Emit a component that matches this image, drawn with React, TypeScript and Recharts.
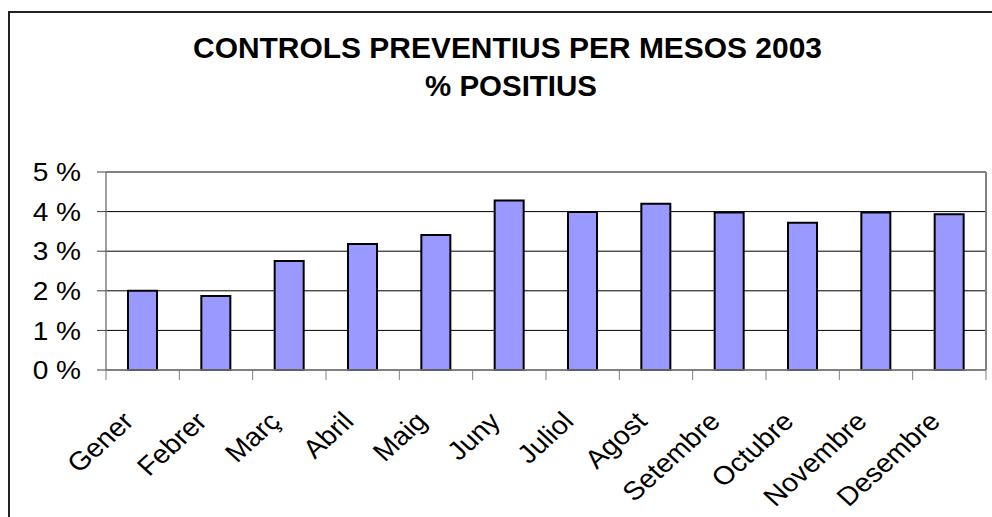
import React from 'react';
import { BarChart, Bar, XAxis, YAxis, CartesianGrid, ReferenceLine } from 'recharts';

const months = ['Gener', 'Febrer', 'Març', 'Abril', 'Maig', 'Juny', 'Juliol', 'Agost', 'Setembre', 'Octubre', 'Novembre', 'Desembre'];
const positius = [2.0, 1.87, 2.75, 3.18, 3.41, 4.28, 3.99, 4.2, 3.98, 3.72, 3.98, 3.93];
const yTicks = [0, 1, 2, 3, 4, 5];
const titleLines = ['CONTROLS PREVENTIUS PER MESOS 2003', '% POSITIUS'];

const data = months.map((m, i) => ({ mes: m, valor: positius[i] }));

const W = 992;
const H = 517;
const M = { top: 172, right: 5, bottom: 7, left: 0 };
const Y_W = 106;
const PLOT_W = W - M.left - M.right - Y_W - 1;
const HALF_BAND = PLOT_W / months.length / 2;
const FONT = '"Liberation Sans", Arial, sans-serif';

const XTick = (props: any) => {
  const { x, y, payload, index } = props;
  const ax = x - 7.5;
  const ay = y + 53;
  return (
    <g>
      <line x1={x - HALF_BAND} y1={y} x2={x - HALF_BAND} y2={y + 10} stroke="#808080" strokeWidth={1} />
      {index === months.length - 1 && (
        <line x1={x + HALF_BAND} y1={y} x2={x + HALF_BAND} y2={y + 10} stroke="#808080" strokeWidth={1} />
      )}
      <text
        x={0}
        y={0}
        transform={`translate(${ax}, ${ay}) scale(1.1, 1) rotate(-45)`}
        textAnchor="end"
        fontFamily={FONT}
        fontSize={26}
        fill="#000"
      >
        {payload.value}
      </text>
    </g>
  );
};

const YTick = (props: any) => {
  const { x, y, payload } = props;
  return (
    <text
      x={0}
      y={0}
      dy="0.355em"
      transform={`translate(${x}, ${y}) scale(1.08, 1)`}
      textAnchor="end"
      fontFamily={FONT}
      fontSize={26}
      fill="#000"
    >
      {`${payload.value} %`}
    </text>
  );
};

export default function App() {
  return (
    <div style={{ position: 'absolute', left: 0, top: 0, width: W, height: H, overflow: 'hidden', background: '#fff' }}>
      <div
        style={{
          position: 'absolute',
          left: 8,
          top: 11,
          width: 1100,
          height: 700,
          borderLeft: '2px solid #222',
          borderTop: '2px solid #222',
        }}
      />
      <svg width={W} height={H} style={{ position: 'absolute', left: 0, top: 0 }}>
        <text x={507.5} y={58} textAnchor="middle" fontFamily={FONT} fontWeight="bold" fontSize={29} fill="#000" textLength={629} lengthAdjust="spacingAndGlyphs">
          {titleLines[0]}
        </text>
        <text x={511} y={96} textAnchor="middle" fontFamily={FONT} fontWeight="bold" fontSize={29} fill="#000" textLength={172} lengthAdjust="spacingAndGlyphs">
          {titleLines[1]}
        </text>
      </svg>
      <div style={{ position: 'absolute', left: 0, top: 0 }}>
        <BarChart width={W} height={H} data={data} margin={M} barSize={29}>
          <CartesianGrid vertical={false} stroke="#000" strokeWidth={1} />
          <XAxis
            dataKey="mes"
            height={140}
            interval={0}
            tickSize={0}
            tickMargin={0}
            tickLine={false}
            axisLine={{ stroke: '#808080', strokeWidth: 1.5 }}
            tick={<XTick />}
          />
          <YAxis
            width={Y_W}
            domain={[0, 5]}
            ticks={yTicks}
            interval={0}
            tickSize={9}
            tickMargin={16}
            axisLine={{ stroke: '#808080', strokeWidth: 1.5 }}
            tickLine={{ stroke: '#404040' }}
            tick={<YTick />}
          />
          <YAxis
            yAxisId="r"
            orientation="right"
            width={1}
            domain={[0, 5]}
            tick={false}
            tickLine={false}
            axisLine={{ stroke: '#808080', strokeWidth: 2 }}
          />
          <ReferenceLine y={5} stroke="#808080" strokeWidth={2} />
          <Bar dataKey="valor" fill="#9999FF" stroke="#000" strokeWidth={2} isAnimationActive={false} />
        </BarChart>
      </div>
    </div>
  );
}
